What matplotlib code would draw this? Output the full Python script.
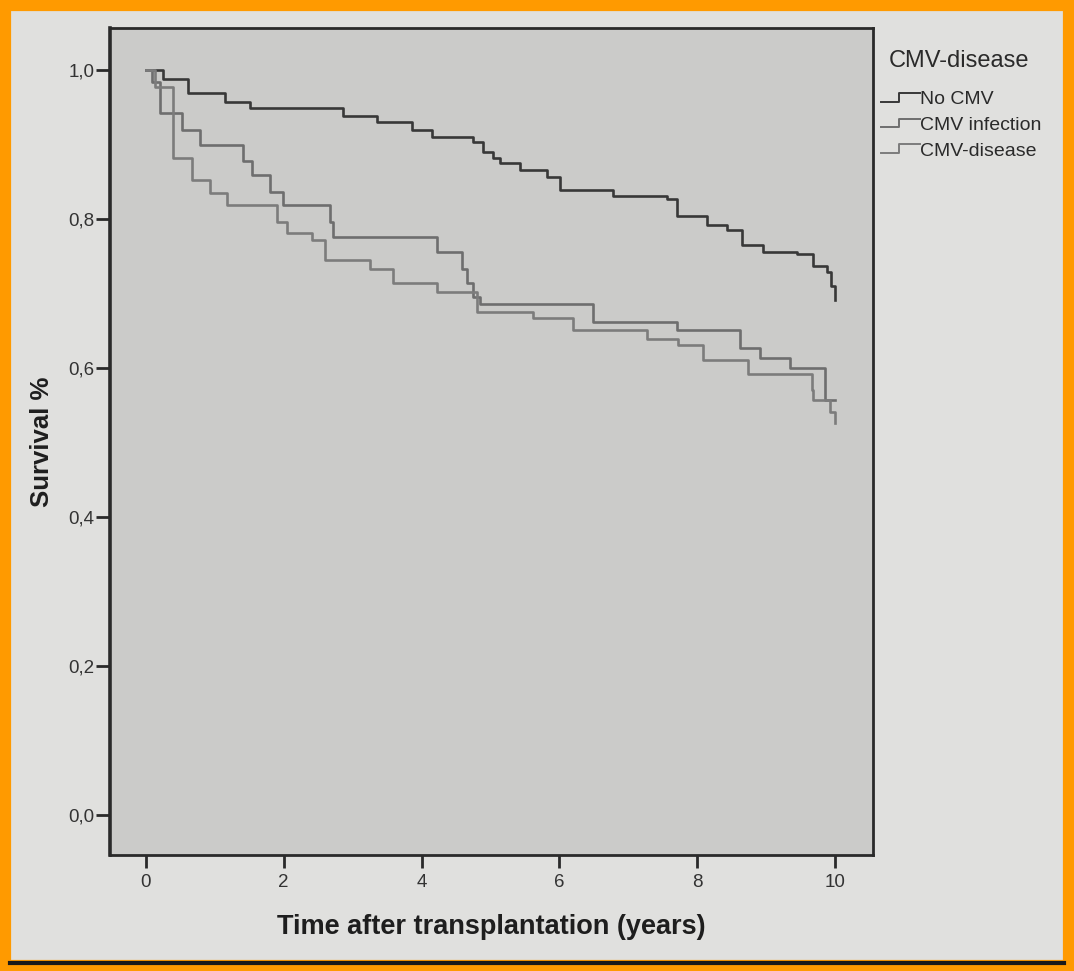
import matplotlib.pyplot as plt
from matplotlib.lines import Line2D
from matplotlib.patches import Rectangle

# Kaplan-Meier step points (years, survival fraction)
t_no_cmv = [0, 0.25, 0.61, 1.15, 1.51, 2.86, 3.35, 3.86, 4.15, 4.75, 4.89, 5.04, 5.14,
            5.43, 5.82, 6.01, 6.78, 7.56, 7.71, 8.14, 8.43, 8.65, 8.96, 9.45, 9.68,
            9.88, 9.94, 10.0]
s_no_cmv = [1.0, 0.987, 0.969, 0.957, 0.948, 0.938, 0.930, 0.919, 0.910, 0.903, 0.890,
            0.882, 0.875, 0.866, 0.856, 0.839, 0.830, 0.826, 0.803, 0.792, 0.785, 0.765,
            0.756, 0.752, 0.736, 0.728, 0.710, 0.691]

t_infection = [0, 0.09, 0.20, 0.52, 0.78, 1.41, 1.54, 1.80, 1.99, 2.67, 2.71, 4.22, 4.59,
               4.66, 4.75, 4.85, 6.49, 7.71, 8.62, 8.91, 9.35, 9.85, 10.0]
s_infection = [1.0, 0.984, 0.942, 0.919, 0.899, 0.877, 0.859, 0.836, 0.819, 0.796, 0.776,
               0.756, 0.732, 0.714, 0.695, 0.685, 0.662, 0.651, 0.627, 0.613, 0.600,
               0.557, 0.557]

t_disease = [0, 0.13, 0.39, 0.67, 0.93, 1.18, 1.90, 2.05, 2.41, 2.60, 3.25, 3.58, 4.22,
             4.80, 5.62, 6.20, 7.27, 7.72, 8.08, 8.74, 9.67, 9.68, 9.93, 10.0]
s_disease = [1.0, 0.977, 0.882, 0.852, 0.835, 0.819, 0.796, 0.781, 0.772, 0.745, 0.732,
             0.714, 0.701, 0.675, 0.667, 0.651, 0.638, 0.631, 0.611, 0.591, 0.570,
             0.557, 0.540, 0.526]

groups = ['No CMV', 'CMV infection', 'CMV-disease']
colors = ['#383838', '#6e6e6e', '#7c7c7c']

x_ticks = [0, 2, 4, 6, 8, 10]
y_ticks = [0.0, 0.2, 0.4, 0.6, 0.8, 1.0]
y_tick_labels = ['0,0', '0,2', '0,4', '0,6', '0,8', '1,0']

W, H = 1074, 971
plt.rcParams['font.family'] = ['Liberation Sans', 'DejaVu Sans']
fig = plt.figure(figsize=(W / 100, H / 100), dpi=100, facecolor='#e0e0de')


def fx(px):
    return px / W


def fy(py):
    return 1 - py / H


ax = fig.add_axes([fx(110), fy(855), fx(873) - fx(110), fy(28) - fy(855)])
ax.set_facecolor('#cbcbc9')

series = [(t_no_cmv, s_no_cmv), (t_infection, s_infection), (t_disease, s_disease)]
for (t, s), c in zip(series, colors):
    ax.plot(t, s, drawstyle='steps-post', color=c, lw=1.9)

ax.set_xlim(-0.52, 10.55)
ax.set_ylim(-0.054, 1.056)
ax.set_xticks(x_ticks)
ax.set_xticklabels([str(v) for v in x_ticks], fontsize=13.5, color='#333333')
ax.set_yticks(y_ticks)
ax.set_yticklabels(y_tick_labels, fontsize=13.5, color='#333333')
ax.tick_params(axis='x', length=9, width=2, color='#2a2a2a', pad=5)
ax.tick_params(axis='y', length=10, width=2, color='#2a2a2a', pad=1)
for side, sp in ax.spines.items():
    sp.set_color('#2a2a2a')
    sp.set_linewidth(2.6 if side == 'left' else 2.0)

ax.set_xlabel('Time after transplantation (years)', fontsize=19.5, fontweight='bold',
              color='#1e1e1e', labelpad=16)
ax.set_ylabel('Survival %', fontsize=18.5, fontweight='bold', color='#1e1e1e')
ax.yaxis.set_label_coords(-0.073, 0.5)

# legend to the right of the plot, with step-shaped keys
fig.text(fx(889), fy(61), 'CMV-disease', fontsize=17, color='#2a2a2a', va='center')
for i, (name, c) in enumerate(zip(groups, colors)):
    yc = 100 + i * 25.5
    fig.add_artist(Line2D([fx(881), fx(899), fx(899), fx(920)],
                          [fy(yc + 2), fy(yc + 2), fy(yc - 7), fy(yc - 7)],
                          color=c, lw=1.4))
    fig.text(fx(920), fy(yc), name, fontsize=14, color='#2a2a2a', va='center')

# page frame
fig.add_artist(Line2D([fx(10), fx(1064)], [fy(963), fy(963)], color='#1a1a1a', lw=3))
fig.add_artist(Rectangle((0, 0), 1, 1, transform=fig.transFigure, fill=False,
                         edgecolor='#ff9a00', lw=16))

fig.savefig('out.png', dpi=100, facecolor=fig.get_facecolor())
